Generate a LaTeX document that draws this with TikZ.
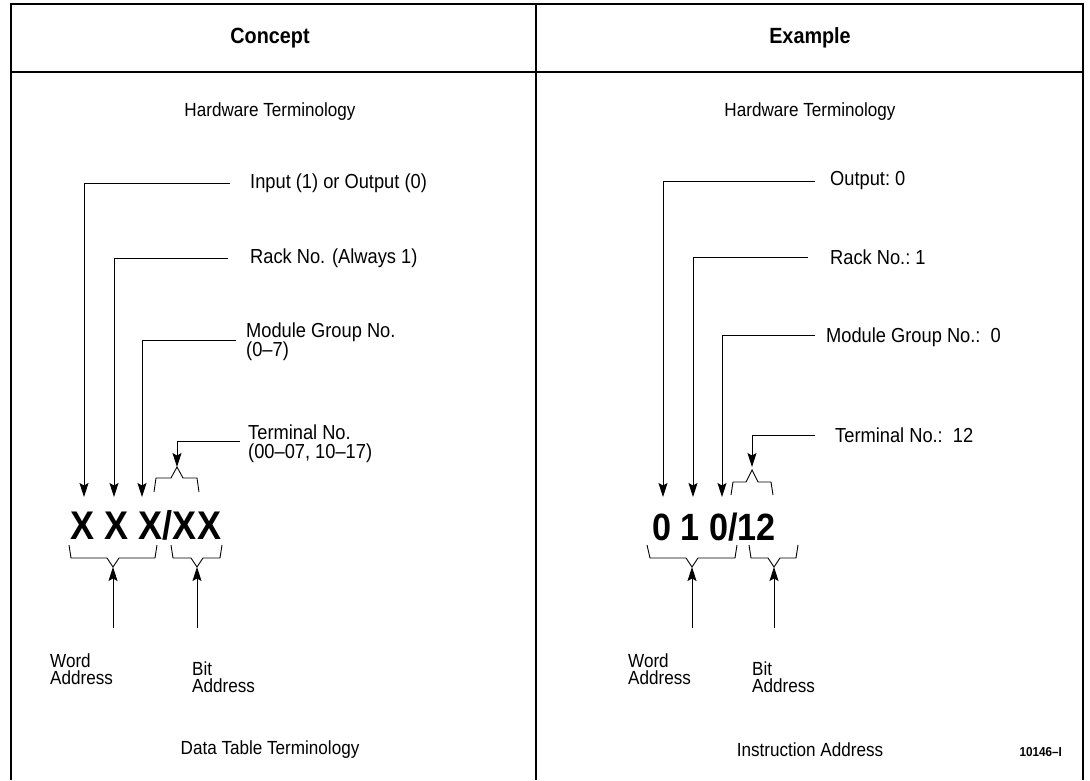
\documentclass[tikz,border=0pt]{standalone}
\usepackage{fontspec}
\setmainfont{Liberation Sans}[FakeStretch=0.9]
\usetikzlibrary{arrows.meta}
\tikzset{
  frame/.style={line width=1.6pt},
  leader/.style={line width=0.9pt},
  arr/.style={leader,-{Stealth[length=14pt,width=9pt,inset=2.5pt]}},
  brace/.style={line width=0.9pt,line join=miter},
  lbl/.style={font=\fontsize{20.3}{19}\selectfont,inner sep=0pt,align=left},
  rlbl/.style={font=\fontsize{19}{17}\selectfont,inner sep=0pt,align=left},
  ttl/.style={font=\fontsize{19}{17}\selectfont,inner sep=0pt},
  hdr/.style={font=\fontsize{22}{22}\selectfont\bfseries,inner sep=0pt},
  big/.style={font=\fontsize{40}{40}\selectfont\bfseries,inner sep=0pt},
  bigr/.style={font=\fontsize{38}{38}\selectfont\bfseries,inner sep=0pt},
}
\begin{document}
\begin{tikzpicture}[x=1pt,y=-1pt]
\useasboundingbox (0,0) rectangle (1090,780);
% frame
\draw[frame] (11,780) -- (11,4) -- (1083,4) -- (1083,780);
\draw[frame] (11,72) -- (1083,72);
\draw[frame] (536,4) -- (536,780);
\node[hdr] (h1) at (270,38) {Concept};
\node[hdr] (h2) at (810,38) {Example};
\node[ttl] (t1) at (270,112) {Hardware Terminology};
\node[ttl] (t2) at (810,112) {Hardware Terminology};
\node[ttl] (b1) at (270,750) {Data Table Terminology};
\node[ttl] (b2) at (810,750) {Instruction Address};
\node[font=\fontsize{13}{13}\selectfont\bfseries,inner sep=0pt,anchor=east] (fig) at (1062,752) {10146--I};

% ---------- left panel ----------
\node[lbl,anchor=west] (l1) at (250,183) {Input (1) or Output (0)};
\node[lbl,anchor=west] (l2) at (250,258) {Rack No. (Always 1)};
\node[lbl,anchor=north west] (l3) at (246,323) {Module Group No.\\(0--7)};
\node[lbl,anchor=north west] (l4) at (248,425) {Terminal No.\\(00--07, 10--17)};
\coordinate (l1s) at (230,183);
\coordinate (l2s) at (228,258);
\coordinate (l3s) at (236,340);
\coordinate (l4s) at (240,441);
\coordinate (la1) at (84,497);
\coordinate (la2) at (114,497);
\coordinate (la3) at (142,497);
\coordinate (la4) at (177,467);
\draw[arr] (l1s) -| (la1);
\draw[arr] (l2s) -| (la2);
\draw[arr] (l3s) -| (la3);
\draw[arr] (l4s) -| (la4);
\draw[brace] (154,492) -- (156,478) -- (171,478) -- (177,467) -- (183,478) -- (197,478) -- (199,492);
\node[big] (lx) at (146,525) {X X X/XX};
% bottom braces
\draw[brace] (69,545) -- (71,558) -- (107,558) -- (113,567) -- (119,558) -- (155,558) -- (157,545);
\draw[brace] (171,545) -- (173,558) -- (191,558) -- (197,567) -- (203,558) -- (220,558) -- (222,545);
\coordinate (lw0) at (113,628);
\coordinate (lw1) at (113,567);
\coordinate (lb0) at (197,628);
\coordinate (lb1) at (197,567);
\draw[arr] (lw0) -- (lw1);
\draw[arr] (lb0) -- (lb1);
\node[rlbl,anchor=north west] (lw) at (50,654) {Word\\Address};
\node[rlbl,anchor=north west] (lb) at (192,662) {Bit\\Address};

% ---------- right panel ----------
\node[lbl,anchor=west] (r1) at (830,181) {Output:\ 0};
\node[lbl,anchor=west] (r2) at (830,257) {Rack No.:\ 1};
\node[lbl,anchor=west] (r3) at (826,337) {Module Group No.:\ \ 0};
\node[lbl,anchor=west] (r4) at (835,435) {Terminal No.:\ \ 12};
\coordinate (r1s) at (815,181);
\coordinate (r2s) at (808,257);
\coordinate (r3s) at (815,335);
\coordinate (r4s) at (815,435);
\coordinate (ra1) at (663,497);
\coordinate (ra2) at (693,497);
\coordinate (ra3) at (722,497);
\coordinate (ra4) at (752,467);
\draw[arr] (r1s) -| (ra1);
\draw[arr] (r2s) -| (ra2);
\draw[arr] (r3s) -| (ra3);
\draw[arr] (r4s) -| (ra4);
\draw[brace] (731,495) -- (733,482) -- (746,482) -- (752,470) -- (758,482) -- (771,482) -- (773,495);
\node[bigr] (rx) at (714,527) {0 1 0/12};
\draw[brace] (647,545) -- (650,558) -- (686,558) -- (692,567) -- (698,558) -- (735,558) -- (737,545);
\draw[brace] (749,545) -- (751,558) -- (768,558) -- (774,567) -- (780,558) -- (796,558) -- (798,545);
\coordinate (rw0) at (692,628);
\coordinate (rw1) at (692,567);
\coordinate (rb0) at (774,628);
\coordinate (rb1) at (774,567);
\draw[arr] (rw0) -- (rw1);
\draw[arr] (rb0) -- (rb1);
\node[rlbl,anchor=north west] (rw) at (628,654) {Word\\Address};
\node[rlbl,anchor=north west] (rb) at (752,662) {Bit\\Address};
\end{tikzpicture}
\end{document}
